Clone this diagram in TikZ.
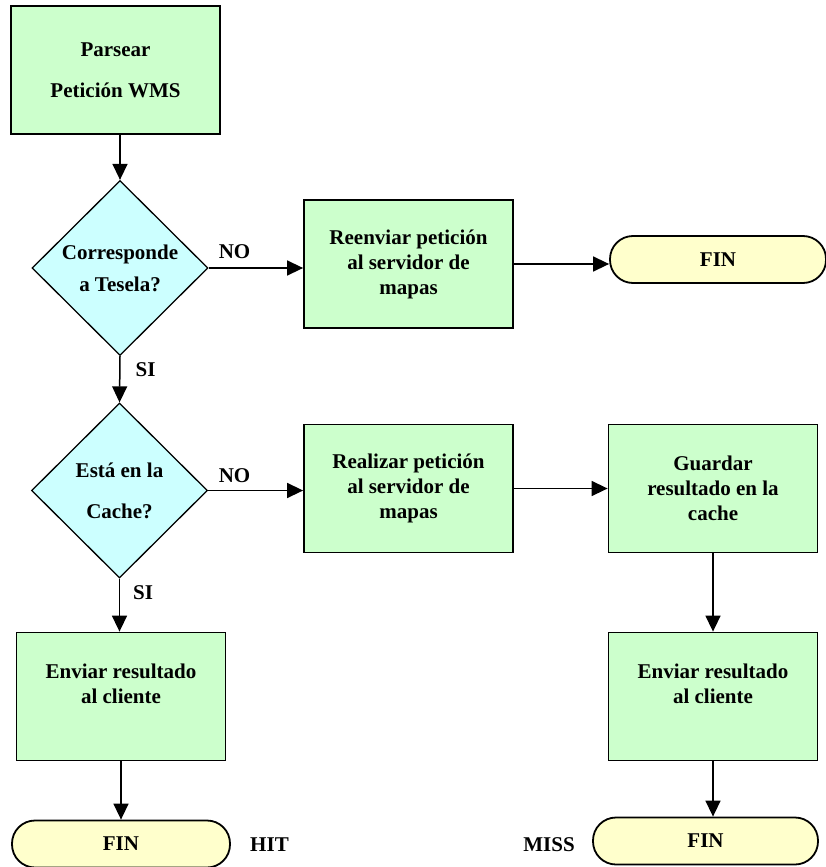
\documentclass[tikz,border=0pt]{standalone}
\usepackage{fontspec}
\setmainfont{Liberation Serif}
\usetikzlibrary{shapes.geometric}
\usetikzlibrary{arrows.meta}
\definecolor{procgreen}{HTML}{CCFFCC}
\definecolor{decicyan}{HTML}{CCFFFF}
\definecolor{termyellow}{HTML}{FFFFCC}
\tikzset{>={Triangle[length=16pt, width=15pt]}}
\tikzset{
    every node/.append style={font=\bfseries\fontsize{21}{25}\selectfont},
    proc/.style={draw, line width=1.8pt, fill=procgreen, minimum width=209pt, minimum height=128pt, inner sep=0pt, align=center},
    deci/.style={draw, line width=1.3pt, fill=decicyan, diamond, aspect=1, minimum width=176pt, minimum height=175pt, inner sep=0pt, align=center},
    term/.style={draw, line width=1.8pt, fill=termyellow, rounded corners=23pt, minimum height=47pt, inner sep=0pt},
    flow/.style={->, line width=1.5pt}
}

\begin{document}
\begin{tikzpicture}[x=1pt, y=-1pt]
    \fill[white](0, 0)rectangle(826, 867);
    \useasboundingbox(0, 0)rectangle(826, 867);
    % procesos y decisiones
    \node[proc](parse) at (115.5, 70) {Parsear\\[16pt]Petición WMS};
    \node[deci](tile) at (120, 268) {Corresponde\\[7pt]a Tesela?};
    \node[proc](forward) at (408.5, 264) {Reenviar petición\\al servidor de\\mapas};
    \node[term, minimum width=216pt](endfwd) at (718, 259.5) {FIN};
    \node[deci](cache) at (119.5, 490.5) {Está en la\\[16pt]Cache?};
    \node[proc](request) at (408.5, 488.5) {Realizar petición\\al servidor de\\mapas};
    \node[proc](store) at (713, 488.5) {Guardar\\resultado en la\\cache};
    \node[proc](sendhit) at (121, 696.5) {Enviar resultado\\al cliente\\~};
    \node[proc](sendmiss) at (713, 696.5) {Enviar resultado\\al cliente\\~};
    \node[term, minimum width=218pt](endhit) at (121, 844) {FIN};
    \node[term, minimum width=225pt](endmiss) at (705.5, 841) {FIN};
    % etiquetas
    \node(no1) at (234.5, 252) {NO};
    \node(no2) at (234.5, 476) {NO};
    \node(si1) at (145.5, 370) {SI};
    \node(si2) at (143, 593) {SI};
    \node(hit) at (269.5, 845) {HIT};
    \node(miss) at (549, 845) {MISS};
    % conectores
    \draw[flow](parse.south -| tile.north)--(tile.north);
    \draw[flow](tile.east)--(tile.east -| forward.west);
    \draw[flow](forward.east)--(forward.east -| endfwd.west);
    \draw[flow](tile.south)--(cache.north);
    \draw[flow](cache.east)--(cache.east -| request.west);
    \draw[flow](request.east)--(request.east -| store.west);
    \draw[flow](cache.south)--(cache.south |- sendhit.north);
    \draw[flow](store.south)--(sendmiss.north);
    \draw[flow](sendhit.south)--(endhit.north);
    \draw[flow](sendmiss.south)--(sendmiss.south |- endmiss.north);
\end{tikzpicture}
\end{document}
